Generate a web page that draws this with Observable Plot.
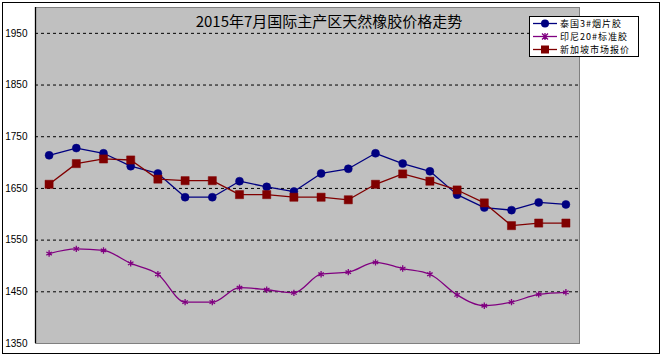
<!DOCTYPE html>
<html>
<head>
<meta charset="utf-8">
<script src="https://cdn.jsdelivr.net/npm/d3@7"></script>
<script src="https://cdn.jsdelivr.net/npm/@observablehq/plot@0.6"></script>
<style>
  html, body { margin: 0; padding: 0; background: white; }
  #wrap { position: relative; width: 662px; height: 357px; overflow: hidden; }
  #border { position: absolute; left: 2px; top: 2px; width: 656px; height: 350px; border: 1px solid #000; pointer-events: none; }
  #title { position: absolute; left: 0; width: 658px; top: 11px; text-align: center; font: 15px "Noto Sans CJK SC", sans-serif; line-height: 20px; color: #000; }
  #legend { position: absolute; left: 529px; top: 16px; width: 108px; height: 39px; background: #fff; border: 1px solid #000; font: 9px "Noto Sans CJK SC", sans-serif; letter-spacing: 1px; line-height: 13px; color: #000; }
  .row { position: absolute; left: 3px; height: 13px; line-height: 13px; display: flex; align-items: center; white-space: nowrap; }
  .row svg { margin-right: 3px; }
</style>
</head>
<body>
<div id="wrap">
  <div id="chart"></div>
  <div id="title"></div>
  <div id="legend"></div>
  <div id="border"></div>
</div>
<script>
const days = d3.range(1, 21);
const seriesNames = ["泰国3#烟片胶", "印尼20#标准胶", "新加坡市场报价"];
const thai = [1714, 1728, 1718, 1693, 1679, 1633, 1633, 1664, 1653, 1644, 1679, 1688, 1718, 1698, 1683, 1638, 1613, 1608, 1623, 1619];
const indo = [1524, 1533, 1530, 1505, 1484, 1430, 1430, 1458, 1454, 1448, 1484, 1488, 1507, 1495, 1484, 1444, 1423, 1430, 1445, 1449];
const sing = [1658, 1698, 1707, 1705, 1668, 1665, 1665, 1638, 1638, 1633, 1633, 1628, 1658, 1678, 1664, 1647, 1622, 1578, 1583, 1583];
const yTicks = [1350, 1450, 1550, 1650, 1750, 1850, 1950];
const gridTicks = [1450, 1550, 1650, 1750, 1850, 1950];
const titleText = "2015年7月国际主产区天然橡胶价格走势";
const colors = ["#000080", "#800080", "#800000"];

const rows = (vals) => days.map((d, i) => ({day: d, value: vals[i]}));
const thaiRows = rows(thai), indoRows = rows(indo), singRows = rows(sing);

const chart = Plot.plot({
  width: 662,
  height: 357,
  marginLeft: 35,
  marginRight: 83,
  marginTop: 7,
  marginBottom: 14,
  style: {background: "transparent", fontFamily: "Liberation Sans, sans-serif", fontSize: "10px", color: "#000"},
  x: {domain: [0.5, 20.5], axis: null},
  y: {domain: [1350, 2000], axis: null},
  marks: [
    Plot.frame({fill: "#c0c0c0", stroke: "#808080"}),
    Plot.ruleY(gridTicks, {stroke: "#000", strokeWidth: 1, strokeDasharray: "3,3"}),
    Plot.ruleX([0.5], {stroke: "#000", strokeWidth: 1.3}),
    Plot.axisY({ticks: yTicks, tickSize: 0, tickPadding: 8, tickFormat: d => String(d), fill: "#000", fontSize: 10, label: null}),
    Plot.line(thaiRows, {x: "day", y: "value", stroke: colors[0], strokeWidth: 1.3}),
    Plot.dot(thaiRows, {x: "day", y: "value", symbol: "circle", r: 4, fill: colors[0], stroke: colors[0], strokeWidth: 0.5}),
    Plot.line(indoRows, {x: "day", y: "value", stroke: colors[1], strokeWidth: 1.3, curve: "monotone-x"}),
    Plot.dot(indoRows, {x: "day", y: "value", symbol: "asterisk", r: 3, stroke: colors[1], strokeWidth: 1.3}),
    Plot.line(singRows, {x: "day", y: "value", stroke: colors[2], strokeWidth: 1.3}),
    Plot.dot(singRows, {x: "day", y: "value", symbol: "square", r: 4.6, fill: colors[2], stroke: colors[2], strokeWidth: 0.5})
  ]
});
document.getElementById("chart").appendChild(chart);
document.getElementById("title").textContent = titleText;

const symbols = [
  '<circle cx="12" cy="6.5" r="4" fill="#000080"/>',
  '<path d="M9,3.5 L15,9.5 M15,3.5 L9,9.5 M12,3 L12,10" stroke="#800080" stroke-width="1.3"/>',
  '<rect x="8" y="2.5" width="8" height="8" fill="#800000"/>'
];
const legend = document.getElementById("legend");
const tops = [0, 13, 26];
seriesNames.forEach((name, i) => {
  const r = document.createElement("div");
  r.className = "row";
  r.style.top = tops[i] + "px";
  r.innerHTML = `<svg width="24" height="13"><line x1="0" y1="6.5" x2="24" y2="6.5" stroke="${colors[i]}" stroke-width="1.3"/>${symbols[i]}</svg>`;
  const s = document.createElement("span");
  s.textContent = name;
  r.appendChild(s);
  legend.appendChild(r);
});
</script>
</body>
</html>
